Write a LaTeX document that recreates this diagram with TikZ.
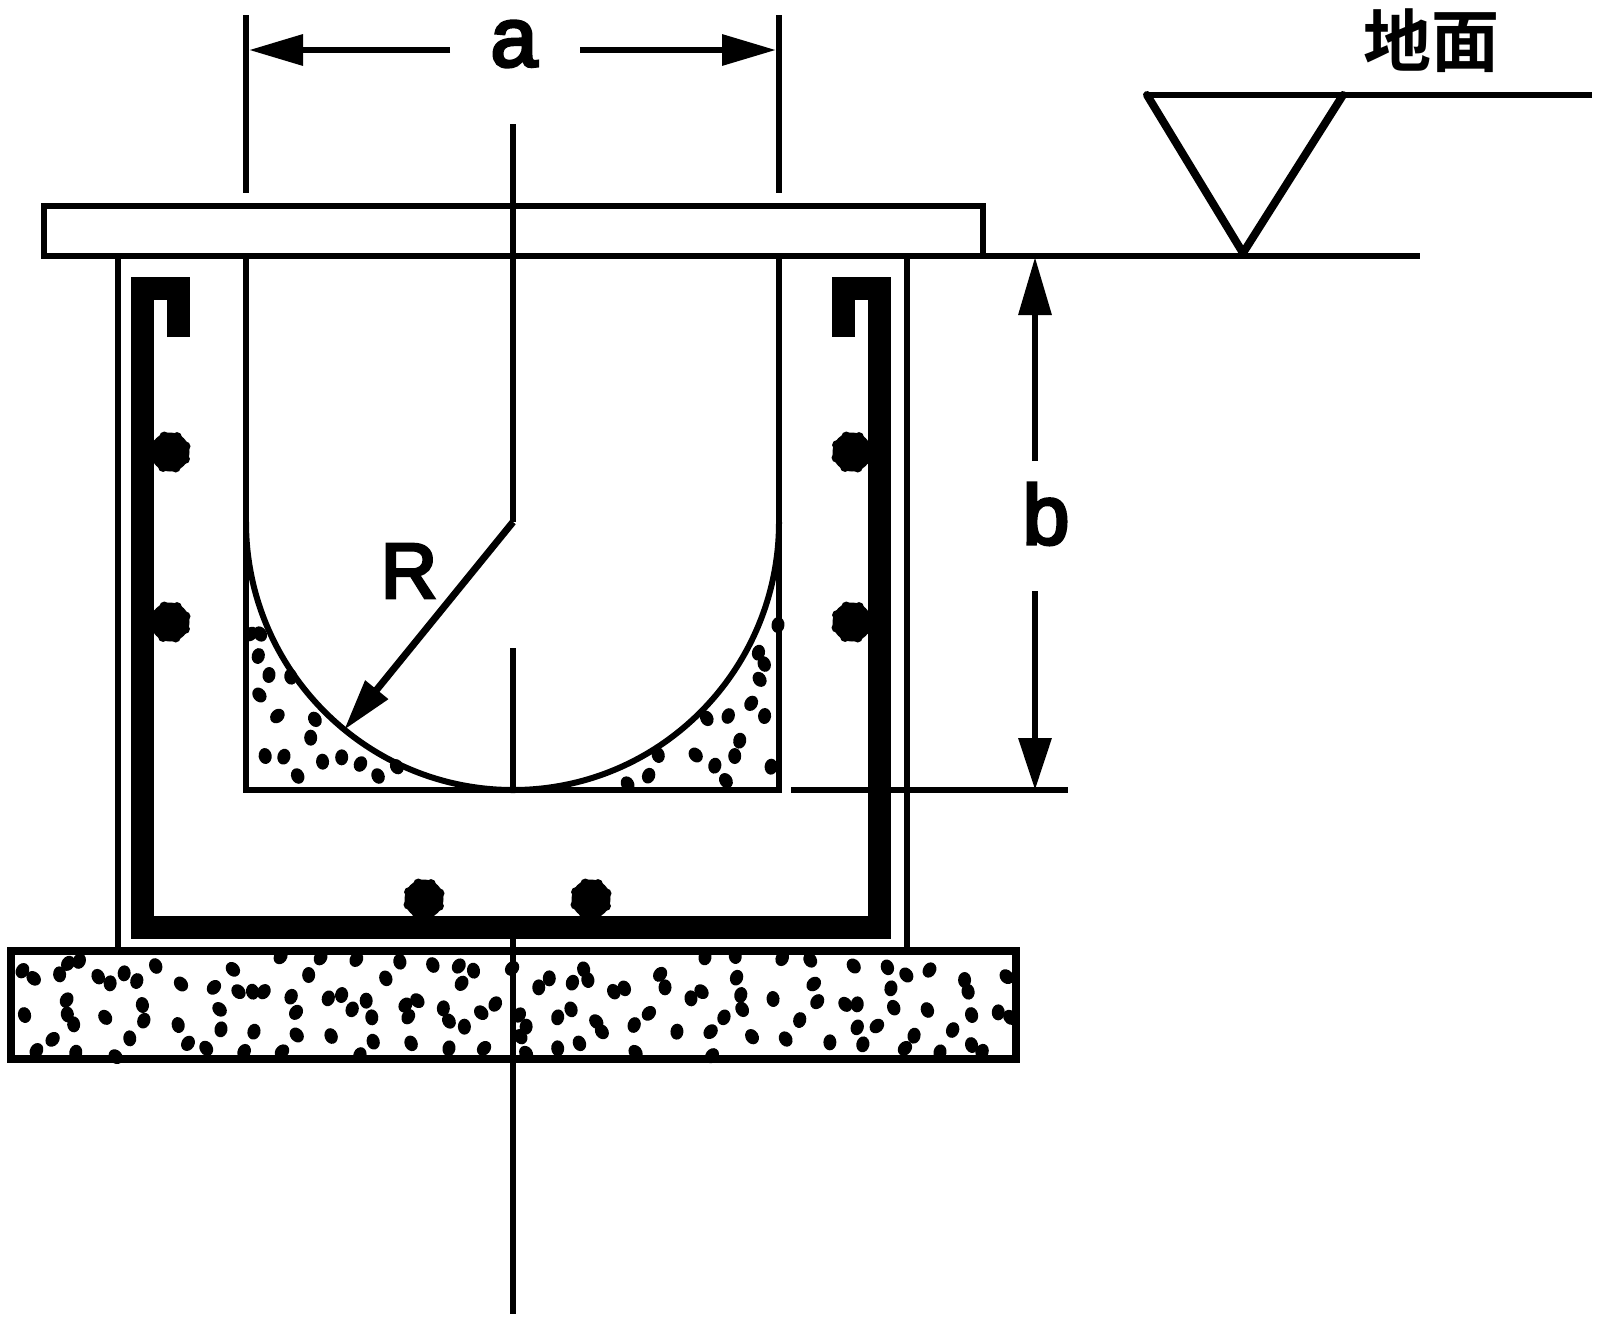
\documentclass[tikz,border=0pt]{standalone}
\usepackage{fontspec}
\setmainfont{Liberation Sans}
\newfontfamily\dimfont[FakeBold=4]{Liberation Sans}
\newfontfamily\cjk{Noto Sans CJK SC}[BoldFont={Noto Sans CJK SC Bold}]
\usetikzlibrary{arrows.meta}
\tikzset{
  thin line/.style={line width=6.5pt,line cap=butt,line join=miter},
  rebar/.style={line width=23pt,line join=miter,line cap=butt},
  dimhead/.style={line width=6.5pt},
  rdot/.style={circle,fill=black,draw=none,minimum size=39pt,inner sep=0pt},
  lab/.style={inner sep=0pt,font=\fontsize{#1}{#1}\selectfont\dimfont},
}
\begin{document}
\begin{tikzpicture}[x=1pt,y=-1pt]
\useasboundingbox (0,0) rectangle (1600,1331);
\fill[white] (0,0) rectangle (1600,1331);
% coordinates
\coordinate (ctop) at (513,124);
\coordinate (apex) at (513,522);
\coordinate (tip) at (344,730);
\coordinate (cmid) at (513,648);
\coordinate (cbot) at (513,790);
\coordinate (rbot) at (513,938);
\coordinate (cend) at (513,1314);
\coordinate (il) at (246,522);
\coordinate (ir) at (779,522);
% speckle: foundation
\foreach \zx/\zy in {32/272,48/295,85/283,97/250,113/243,140/290,157/310,177/280,195/303,222/258,258/312,305/322,332/268,340/335,360/335,376/335,415/350,440/285,400/230,457/233,508/238,570/245,617/255,654/258,675/272,658/310,550/295,468/355,487/345,522/362,502/388,422/397,530/412,578/375,595/362,582/410,632/385,640/423,662/440,686/398,706/372,730/265,740/405,750/440,742/470,783/295,768/322,816/308,838/300,832/268,890/325,875/335,941/283,948/322,1050/293,1056/345,1058/388,1032/412,985/355,1000/335,1102/357,1160/312,1165/365,1205/373,1222/373,1274/383,1322/390,1270/325,1292/285,1325/270,1265/262,1217/258,1155/240,1115/235,1048/228,1005/232,1375/300,1380/335,1435/290,1385/405,1423/397,1440/412,1140/420,1222/442,1250/438,1358/450,1303/467,1290/505,1385/495,1400/515,1340/517,1230/493,1183/487,1120/477,1072/470,1013/455,965/455,904/435,858/455,850/425,925/400,814/388,795/412,826/490,795/505,906/517,1015/527,750/520,690/505,640/505,586/490,532/485,472/468,423/465,362/455,315/448,254/435,268/490,294/505,348/515,402/515,513/525,185/475,205/422,203/375,150/412,105/433,96/403,95/360,35/405,75/478,52/512,108/518,165/530,313/388}
{ \pgfmathsetmacro\bx{\zx/1.4255}\pgfmathsetmacro\by{880+\zy/3}
  \pgfmathsetmacro\ba{mod(\zx*3+\zy*5,90)-45}
  \fill[black,rotate around={\ba:(\bx,\by)}] (\bx,\by) ellipse [x radius=6.5pt,y radius=8pt]; }
% speckle: corners of the channel
\foreach \zx/\zy in {100/468,128/525,103/585,150/648,185/530,248/658,237/713,118/768,167/770,203/828,268/785,318/772,367/792,413/828,462/800,80/402,105/402,1407/458,1422/492,1410/538,1388/610,1423/648,1328/648,1272/655,1358/722,1345/768,1243/765,1293/797,1322/842,1120/827,1145/765,1065/852,1440/800,1458/375}
{ \pgfmathsetmacro\bx{220+\zx/2.613}\pgfmathsetmacro\by{500+\zy/3}
  \pgfmathsetmacro\ba{mod(\zx*3+\zy*5,90)-45}
  \fill[black,rotate around={\ba:(\bx,\by)}] (\bx,\by) ellipse [x radius=6.5pt,y radius=8pt]; }
% foundation
\draw[line width=8pt] (11,951) rectangle (1016,1059);
% slab
\draw[thin line] (44,206) rectangle (983,256);
% thin outer walls
\draw[thin line] (118,256) -- (118,951);
\draw[thin line] (907,256) -- (907,951);
% channel walls
\draw[thin line] (246,256) -- (246,790) -- (779,790) -- (779,256);
% rebar
\draw[rebar] (178,337) -- (178,288.5) -- (142,288.5) -- (142,927.5) -- (879,927.5) -- (879,288.5) -- (843,288.5) -- (843,337);
% rebar dots
\node[rdot] (d1) at (170,452) {};
\node[rdot] (d2) at (170,622) {};
\node[rdot] (d3) at (852,452) {};
\node[rdot] (d4) at (852,622) {};
\node[rdot] (d5) at (424,899) {};
\node[rdot] (d6) at (591,899) {};
\foreach \d in {d1,d2,d3,d4,d5,d6}
  \foreach \ang in {20,65,...,335}
    \fill[black] (\d.center) ++(\ang:16.5pt) circle [radius=5pt];
% centre lines
\draw[thin line] (ctop) -- (apex);
\draw[thin line] (cmid) -- (cbot);
\draw[thin line] (rbot) -- (cend);
% arc
\draw[line width=6pt] (il) .. controls (246,669.5) and (365.5,790) .. (cbot) .. controls (660.5,790) and (779,669.5) .. (ir);
% radius
\draw[line width=7pt,-{Triangle[length=52pt,width=28pt]}] (apex) -- (tip);
\node[lab=78] (R) at (409,571) {R};
% dim a
\coordinate (al) at (246,15);\coordinate (alb) at (246,193);
\coordinate (ar) at (779,15);\coordinate (arb) at (779,193);
\draw[thin line] (al) -- (alb);
\draw[thin line] (ar) -- (arb);
\node[lab=84] (a) at (514,44) {a};
\coordinate (a1) at (450,50);\coordinate (a2) at (580,50);
\coordinate (a1t) at (249,50);\coordinate (a2t) at (776,50);
\draw[dimhead,-{Triangle[length=54pt,width=30pt]}] (a1) -- (a1t);
\draw[dimhead,-{Triangle[length=54pt,width=30pt]}] (a2) -- (a2t);
% dim b
\coordinate (b1) at (1035,461);\coordinate (b1t) at (1035,257);
\coordinate (b2) at (1035,591);\coordinate (b2t) at (1035,790);
\draw[dimhead,-{Triangle[length=58pt,width=32pt]}] (b1) -- (b1t);
\draw[dimhead,-{Triangle[length=52pt,width=32pt]}] (b2) -- (b2t);
\node[lab=84] (b) at (1046,514) {b};
\coordinate (h1) at (791,790);\coordinate (h2) at (1068,790);
\draw[thin line] (h1) -- (h2);
% ground
\coordinate (g0) at (983,256);\coordinate (g1) at (1420,256);
\draw[thin line] (g0) -- (g1);
\coordinate (t1) at (1147,95);\coordinate (t2) at (1343,95);\coordinate (t3) at (1243,253);\coordinate (g2) at (1592,95);
\draw[thin line] (g2) -- (t1);
\draw[line width=8pt,line join=round,line cap=round] (t1) -- (t3) -- (t2);
\node[inner sep=0pt] (ground) at (1431,41) {\fontsize{68}{68}\selectfont\cjk\bfseries 地面};
\end{tikzpicture}
\end{document}
